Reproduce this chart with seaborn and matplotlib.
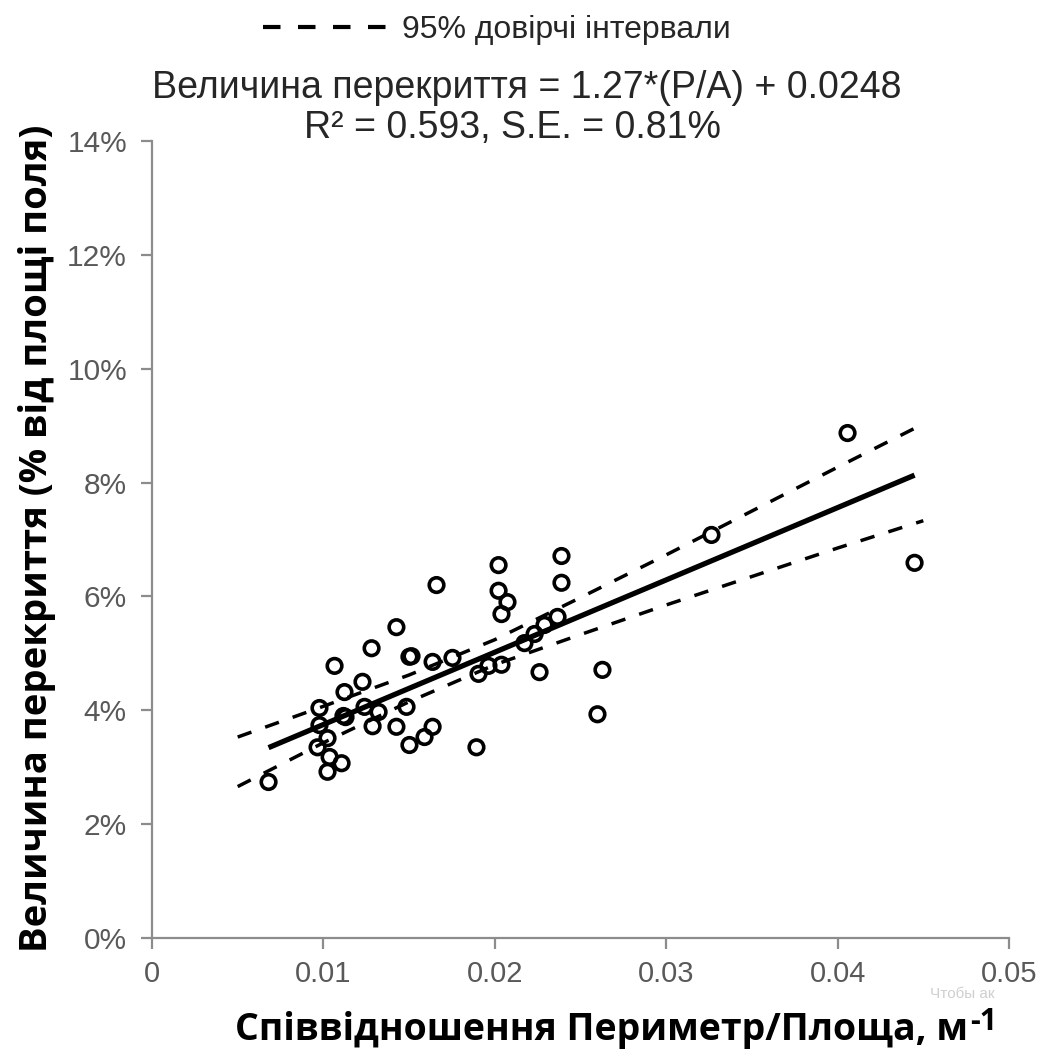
import numpy as np
import pandas as pd
import matplotlib
matplotlib.use("Agg")
import matplotlib.pyplot as plt
import seaborn as sns
from matplotlib import font_manager as fm
from matplotlib.ticker import PercentFormatter
from matplotlib.lines import Line2D

# ---- data ----
pa_ratio = [0.00680, 0.00977, 0.00977, 0.01024, 0.00966, 0.01036, 0.01024, 0.01106,
            0.01065, 0.01123, 0.01117, 0.01129, 0.01228, 0.01240, 0.01281, 0.01287,
            0.01322, 0.01426, 0.01426, 0.01485, 0.01502, 0.01502, 0.01514, 0.01590,
            0.01637, 0.01637, 0.01660, 0.01753, 0.01893, 0.01905, 0.01963, 0.02039,
            0.02022, 0.02022, 0.02074, 0.02039, 0.02173, 0.02232, 0.02290, 0.02366,
            0.02389, 0.02389, 0.02261, 0.02628, 0.02599, 0.03264, 0.04058, 0.04449]
overlap_pct = [2.74, 4.04, 3.74, 3.51, 3.35, 3.18, 2.92, 3.07,
               4.78, 4.32, 3.90, 3.88, 4.50, 4.06, 5.09, 3.72,
               3.97, 5.46, 3.71, 4.06, 3.39, 4.94, 4.95, 3.53,
               4.85, 3.71, 6.20, 4.92, 3.35, 4.64, 4.78, 4.80,
               6.55, 6.10, 5.90, 5.69, 5.18, 5.34, 5.50, 5.64,
               6.71, 6.24, 4.67, 4.71, 3.93, 7.08, 8.87, 6.59]

slope = 1.27
intercept = 0.0248

ci_x = [0.005, 0.010, 0.015, 0.020, 0.025, 0.030, 0.035, 0.040, 0.045]
ci_upper_pct = [3.53, 4.07, 4.62, 5.24, 5.98, 6.73, 7.50, 8.27, 9.03]
ci_lower_pct = [2.66, 3.43, 4.15, 4.80, 5.33, 5.85, 6.35, 6.85, 7.33]

x_ticks = [0, 0.01, 0.02, 0.03, 0.04, 0.05]
x_tick_labels = ["0", "0.01", "0.02", "0.03", "0.04", "0.05"]
y_ticks = [0, 0.02, 0.04, 0.06, 0.08, 0.10, 0.12, 0.14]

legend_label = "95% довірчі інтервали"
title_line1 = "Величина перекриття = 1.27*(P/A) + 0.0248"
title_line2 = "R² = 0.593, S.E. = 0.81%"
x_label_main = "Співвідношення Периметр/Площа, м"
x_label_sup = "-1"
y_label = "Величина перекриття (% від площі поля)"
watermark = "Чтобы ак"

# ---- pick an installed bold sans ----
bold_family = "DejaVu Sans"
names_bold = {f.name for f in fm.fontManager.ttflist
              if str(f.weight) in ("700", "bold") and f.style == "normal"}
for cand in ["Open Sans", "Noto Sans", "Roboto", "Lato", "Liberation Sans", "DejaVu Sans"]:
    if cand in names_bold:
        bold_family = cand
        break

# ---- frames ----
pts = pd.DataFrame({"x": pa_ratio, "y": np.array(overlap_pct) / 100})
x_fit = np.array([min(pa_ratio), max(pa_ratio)])
fit = pd.DataFrame({"x": x_fit, "y": slope * x_fit + intercept})
ci = pd.DataFrame({"x": ci_x,
                   "up": np.array(ci_upper_pct) / 100,
                   "lo": np.array(ci_lower_pct) / 100})

sns.set_theme(style="white")
plt.rcParams["font.family"] = ["Liberation Sans", "DejaVu Sans"]

fig = plt.figure(figsize=(10.44, 10.5), dpi=100)
ax = fig.add_axes([152 / 1044, 112 / 1050, 857 / 1044, 797 / 1050])

grey = "#8c8c8c"
dash = (0, (4.2, 4.2))

sns.lineplot(data=ci, x="x", y="up", ax=ax, color="black", lw=2.5,
             linestyle=dash, sort=True, estimator=None)
sns.lineplot(data=ci, x="x", y="lo", ax=ax, color="black", lw=2.5,
             linestyle=dash, sort=True, estimator=None)
sns.lineplot(data=fit, x="x", y="y", ax=ax, color="black", lw=3.8,
             estimator=None, solid_capstyle="butt")
sns.scatterplot(data=pts, x="x", y="y", ax=ax, s=110, facecolor="none",
                edgecolor="black", linewidth=2.6, zorder=5)

ax.set_xlim(0, 0.05)
ax.set_ylim(0, 0.14)
ax.set_xticks(x_ticks)
ax.set_xticklabels(x_tick_labels)
ax.set_yticks(y_ticks)
ax.yaxis.set_major_formatter(PercentFormatter(1.0, decimals=0))
for s in ["top", "right"]:
    ax.spines[s].set_visible(False)
for s in ["left", "bottom"]:
    ax.spines[s].set_color(grey)
    ax.spines[s].set_linewidth(1.6)
ax.tick_params(axis="both", direction="out", length=8, width=1.6, color=grey,
               labelcolor="#595959", bottom=True, left=True)
ax.tick_params(axis="x", labelsize=21, pad=8)
ax.tick_params(axis="y", labelsize=21.5, pad=10)
ax.set_xlabel("")
ax.set_ylabel("")

bold_fam = [bold_family, "DejaVu Sans"]
# watermark sits behind the axis title, as in the reference
fig.text(962 / 1044, 1 - 994 / 1050, watermark, ha="center", va="center",
         fontsize=11, color="#cfcfcf", zorder=0)
fig.text(968 / 1044, 1 - 1040 / 1050, x_label_main, ha="right", va="baseline",
         fontsize=27, fontweight="bold", family=bold_fam, color="black")
fig.text(970 / 1044, 1 - 1030 / 1050, x_label_sup, ha="left", va="baseline",
         fontsize=22, fontweight="bold", family=bold_fam, color="black")
fig.text(37 / 1044, 1 - 538 / 1050, y_label, ha="center", va="center",
         rotation=90, fontsize=27.5, fontweight="bold",
         family=bold_fam, color="black")

title_font = ["Liberation Sans", "DejaVu Sans"]
fig.text(527 / 1044, 1 - 88 / 1050, title_line1, ha="center", va="center",
         fontsize=27, family=title_font, color="#262626")
fig.text(512 / 1044, 1 - 128 / 1050, title_line2, ha="center", va="center",
         fontsize=27, family=title_font, color="#262626")

handle = Line2D([], [], color="black", lw=3, linestyle=(0, (4.2, 4.2)))
leg = fig.legend([handle], [legend_label], loc="center",
                 bbox_to_anchor=(497 / 1044, 1 - 30 / 1050), frameon=False,
                 handlelength=4.0, handletextpad=0.35,
                 prop={"family": title_font, "size": 23})
for t in leg.get_texts():
    t.set_color("#262626")

fig.savefig("out.png", dpi=100)
